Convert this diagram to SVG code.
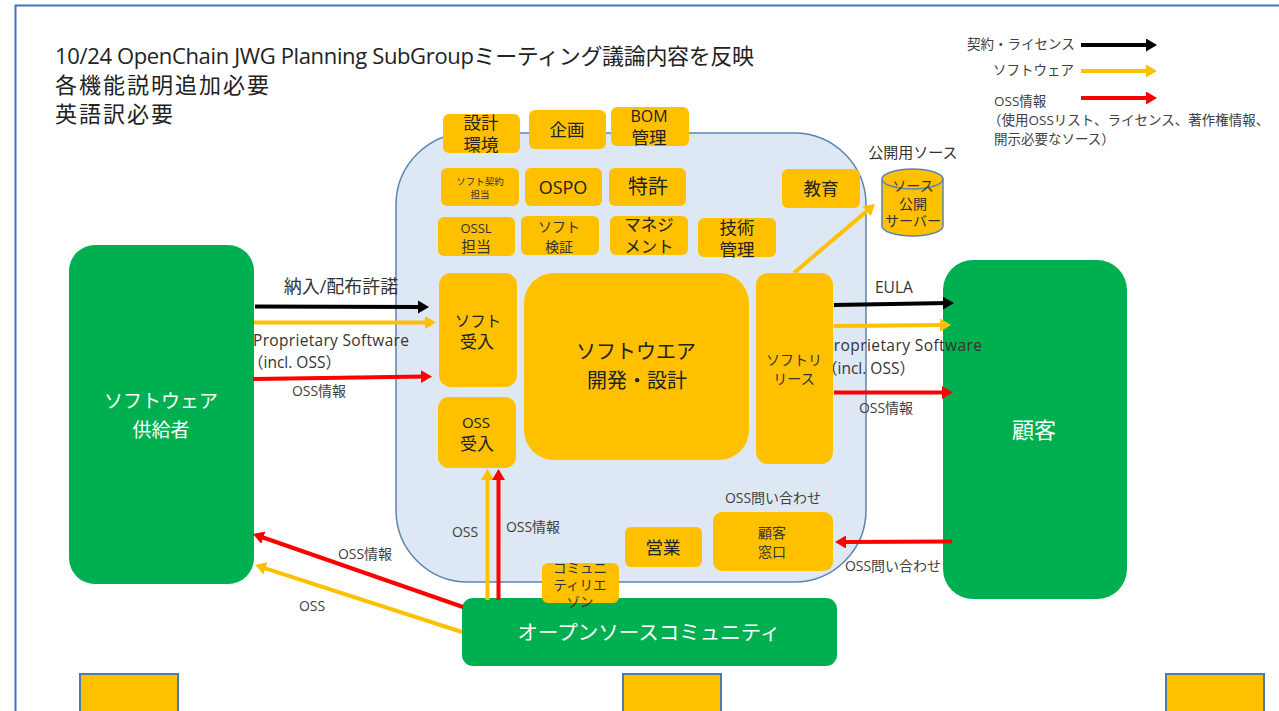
<svg xmlns="http://www.w3.org/2000/svg" width="1279" height="711" viewBox="0 0 1279 711">
<style>
text{font-family:"Open Sans","Noto Sans CJK JP",sans-serif;fill:#333}
.m{text-anchor:middle}
.t{font-size:22px;fill:#222}
.l{font-size:14px;fill:#404040}
.s{font-size:13.500px;fill:#404040}
.n{font-size:17.500px;fill:#222;text-anchor:middle}
.w{fill:#fff;text-anchor:middle}
.o{fill:#FFC000}
.g{fill:#00B050}
.c{fill:none;stroke-width:4}
.k{stroke:#000}.y{stroke:#FFC000}.r{stroke:#FF0000}
</style>
<defs>
<marker id="ak" markerUnits="userSpaceOnUse" markerWidth="12" markerHeight="14" refX="5" refY="6.500" orient="auto"><path d="M0 0L11 6.500L0 13z" fill="#000"/></marker>
<marker id="ay" markerUnits="userSpaceOnUse" markerWidth="12" markerHeight="14" refX="5" refY="6.500" orient="auto"><path d="M0 0L11 6.500L0 13z" fill="#FFC000"/></marker>
<marker id="ar" markerUnits="userSpaceOnUse" markerWidth="12" markerHeight="14" refX="5" refY="6.500" orient="auto"><path d="M0 0L11 6.500L0 13z" fill="#FF0000"/></marker>
</defs>
<rect width="1279" height="711" fill="#fff"/>
<path d="M15.500 711V5.500H1279" fill="none" stroke="#4472C4" stroke-width="2"/>
<g id="title">
<text class="t" x="55" y="64" textLength="699">10/24 OpenChain JWG Planning SubGroupミーティング議論内容を反映</text>
<text class="t" x="55" y="93" textLength="214">各機能説明追加必要</text>
<text class="t" x="55" y="122" textLength="118">英語訳必要</text>
</g>
<g id="container"><rect x="396" y="133" width="470" height="449" rx="72" fill="#DEE8F4" stroke="#5B84B1" stroke-width="1.500"/></g>
<g id="supplier"><rect class="g" x="69" y="245" width="185" height="339" rx="26"/><text class="w" font-size="19" x="161" y="408">ソフトウェア</text><text class="w" font-size="19" x="161" y="437">供給者</text></g>
<g id="customer"><rect class="g" x="943" y="260" width="184" height="339" rx="30"/><text class="w" font-size="22" x="1034" y="438">顧客</text></g>
<g id="labels">
<text class="m" font-size="18" x="341" y="293" fill="#222">納入/配布許諾</text>
<text font-size="15.500" x="253" y="346" textLength="156">Proprietary Software</text>
<text font-size="15.500" x="248" y="368">（incl. OSS）</text>
<text class="l m" x="319" y="396">OSS情報</text>
<text font-size="15.500" x="875" y="293">EULA</text>
<text font-size="15.500" x="824" y="351" textLength="158">Proprietary Software</text>
<text font-size="15.500" x="822" y="374">（incl. OSS）</text>
<text class="l m" x="886" y="413">OSS情報</text>
<text class="l m" x="773" y="503">OSS問い合わせ</text>
<text class="l m" x="893" y="571">OSS問い合わせ</text>
<text class="l m" x="465" y="537">OSS</text>
<text class="l m" x="533" y="532">OSS情報</text>
<text class="l m" x="365" y="559">OSS情報</text>
<text class="l m" x="312" y="611">OSS</text>
<text class="m" x="913" y="158" font-size="15" fill="#404040">公開用ソース</text>
<text class="s" x="967" y="49">契約・ライセンス</text>
<text class="s" x="993" y="75">ソフトウェア</text>
<text class="s" x="994" y="106">OSS情報</text>
<text class="s" x="988" y="125">（使用OSSリスト、ライセンス、著作権情報、</text>
<text class="s" x="994" y="144">開示必要なソース）</text>
</g>
<g id="kankyo"><rect class="o" x="443" y="114" width="77" height="39" rx="6"/><text class="n" x="481" y="129">設計</text><text class="n" x="481" y="151">環境</text></g>
<g id="kikaku"><rect class="o" x="529" y="110" width="77" height="39" rx="6"/><text class="n" x="567" y="136">企画</text></g>
<g id="bom"><rect class="o" x="611" y="107" width="78" height="39" rx="6"/><text class="n" x="649" y="122" style="font-size:16px">BOM</text><text class="n" x="649" y="144">管理</text></g>
<g id="keiyaku"><rect class="o" x="441" y="168" width="78" height="38" rx="6"/><text class="m" font-size="9.500" x="480" y="185">ソフト契約</text><text class="m" font-size="9.500" x="480" y="198">担当</text></g>
<g id="ospo"><rect class="o" x="525" y="168" width="77" height="38" rx="6"/><text class="n" x="563" y="194" style="font-size:18px">OSPO</text></g>
<g id="tokkyo"><rect class="o" x="609" y="168" width="77" height="38" rx="6"/><text class="n" x="648" y="194" style="font-size:20px">特許</text></g>
<g id="kyoiku"><rect class="o" x="782" y="169" width="78" height="39" rx="6"/><text class="n" x="821" y="195">教育</text></g>
<g id="ossl"><rect class="o" x="438" y="217" width="77" height="39" rx="6"/><text class="m" font-size="13" x="476" y="233">OSSL</text><text class="m" font-size="15" x="476" y="252">担当</text></g>
<g id="kensho"><rect class="o" x="521" y="216" width="78" height="39" rx="6"/><text class="m" font-size="14" x="559" y="232">ソフト</text><text class="m" font-size="14" x="559" y="252">検証</text></g>
<g id="mgmt"><rect class="o" x="610" y="216" width="78" height="39" rx="6"/><text class="n" x="649" y="231" style="font-size:16.500px">マネジ</text><text class="n" x="649" y="253" style="font-size:16.500px">メント</text></g>
<g id="gijutsu"><rect class="o" x="698" y="218" width="78" height="39" rx="6"/><text class="n" x="737" y="234">技術</text><text class="n" x="737" y="256">管理</text></g>
<g id="soft-in"><rect class="o" x="439" y="273" width="78" height="114" rx="12"/><text class="n" x="478" y="327" style="font-size:15.500px">ソフト</text><text class="n" x="477" y="348" style="font-size:17px">受入</text></g>
<g id="oss-in"><rect class="o" x="438" y="397" width="78" height="71" rx="11"/><text class="n" x="476" y="428" style="font-size:15px">OSS</text><text class="n" x="477" y="450" style="font-size:17px">受入</text></g>
<g id="dev"><rect class="o" x="524" y="273" width="225" height="187" rx="30"/><text class="n" x="636" y="359" style="font-size:20px">ソフトウエア</text><text class="n" x="637" y="388" style="font-size:20px">開発・設計</text></g>
<g id="release"><rect class="o" x="756" y="273" width="77" height="191" rx="12"/><text class="m" font-size="14" x="794" y="365" fill="#594a10">ソフトリ</text><text class="m" font-size="14" x="794" y="384" fill="#594a10">リース</text></g>
<g id="eigyo"><rect class="o" x="625" y="527" width="77" height="40" rx="6"/><text class="n" x="663" y="554">営業</text></g>
<g id="madoguchi"><rect class="o" x="713" y="512" width="120" height="59" rx="9"/><text class="m" font-size="14" x="772" y="538">顧客</text><text class="m" font-size="14" x="772" y="557">窓口</text></g>
<g id="community"><rect class="g" x="462" y="598" width="375" height="68" rx="11"/><text class="w" font-size="20.500" x="649" y="640">オープンソースコミュニティ</text></g>
<g id="liaison"><rect class="o" x="542" y="563" width="77" height="40" rx="6"/><text class="m" font-size="13.500" x="580" y="573">コミュニ</text><text class="m" font-size="13.500" x="580" y="590">ティリエ</text><text class="m" font-size="13.500" x="580" y="607">ゾン</text></g>
<g id="server">
<path class="o" d="M882 179A30.500 10 0 0 1 943 179V226A30.500 10 0 0 1 882 226z" stroke="#5B84B1" stroke-width="1.500"/>
<path d="M882 179A30.500 10 0 0 0 943 179" fill="none" stroke="#5B84B1" stroke-width="1.500"/>
<text class="m" font-size="14" x="913" y="191">ソース</text><text class="m" font-size="14" x="913" y="209">公開</text><text class="m" font-size="14" x="913" y="226">サーバー</text>
</g>
<g id="connectors">
<path class="c k" d="M255 306.500L423 307" marker-end="url(#ak)"/>
<path class="c y" d="M254 322.500L430 322.500" marker-end="url(#ay)"/>
<path class="c r" d="M253 379L426 376.500" marker-end="url(#ar)"/>
<path class="c k" d="M834 305L948 303" marker-end="url(#ak)"/>
<path class="c y" d="M834 326L945 325" marker-end="url(#ay)"/>
<path class="c r" d="M834 392.500L947 392.500" marker-end="url(#ar)"/>
<path class="c y" d="M487.500 600V475" marker-end="url(#ay)"/>
<path class="c r" d="M498.500 600V475" marker-end="url(#ar)"/>
<path class="c r" d="M463 607L258.700 536" marker-end="url(#ar)"/>
<path class="c y" d="M462 632L260.700 566.800" marker-end="url(#ay)"/>
<path class="c r" d="M952 541.500L841 542" marker-end="url(#ar)"/>
<path class="c y" d="M794 273L870.400 207.900" marker-end="url(#ay)"/>
<path class="c k" d="M1081 45H1151" marker-end="url(#ak)"/>
<path class="c y" d="M1081 71H1151" marker-end="url(#ay)"/>
<path class="c r" d="M1081 98H1151" marker-end="url(#ar)"/>
</g>
<g id="bottom-boxes">
<rect class="o" x="80" y="674" width="98" height="45" stroke="#4A7BB0" stroke-width="2"/>
<rect class="o" x="623" y="674" width="98" height="45" stroke="#4A7BB0" stroke-width="2"/>
<rect class="o" x="1166" y="674" width="98" height="45" stroke="#4A7BB0" stroke-width="2"/>
</g>
</svg>
